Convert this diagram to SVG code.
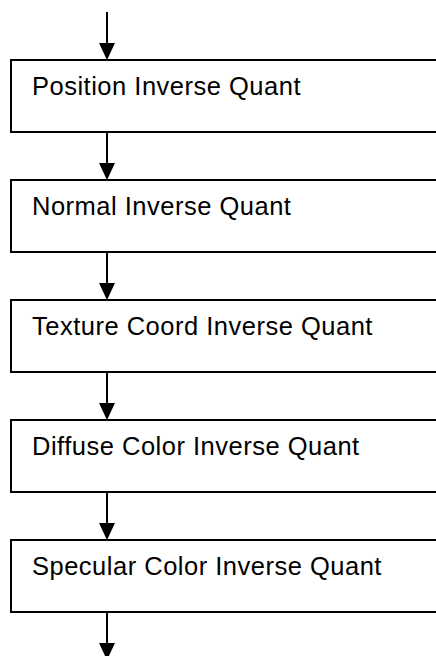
<svg xmlns="http://www.w3.org/2000/svg" width="436" height="656" viewBox="0 0 436 656">
<defs>
<style>
.box{fill:#fff;stroke:#000;stroke-width:2}
.lbl{font-family:"Liberation Sans",Arial,sans-serif;font-size:25.5px;letter-spacing:0.5px;fill:#000}
.conn line{stroke:#000;stroke-width:2}
.conn polygon{fill:#000}
</style>
</defs>
<rect width="436" height="656" fill="#fff"/>
<g id="connectors" class="conn">
<line x1="107" y1="12" x2="107" y2="44"/>
<polygon points="107,60 99,43 115,43"/>
<line x1="107" y1="132" x2="107" y2="164"/>
<polygon points="107,180 99,163 115,163"/>
<line x1="107" y1="252" x2="107" y2="284"/>
<polygon points="107,300 99,283 115,283"/>
<line x1="107" y1="372" x2="107" y2="404"/>
<polygon points="107,420 99,403 115,403"/>
<line x1="107" y1="492" x2="107" y2="524"/>
<polygon points="107,540 99,523 115,523"/>
<line x1="107" y1="612" x2="107" y2="644"/>
<polygon points="107,660 99,643 115,643"/>
</g>
<g id="node1"><rect class="box" x="11" y="60" width="440" height="72"/><text class="lbl" x="32" y="95">Position Inverse Quant</text></g>
<g id="node2"><rect class="box" x="11" y="180" width="440" height="72"/><text class="lbl" x="32" y="215">Normal Inverse Quant</text></g>
<g id="node3"><rect class="box" x="11" y="300" width="440" height="72"/><text class="lbl" x="32" y="335">Texture Coord Inverse Quant</text></g>
<g id="node4"><rect class="box" x="11" y="420" width="440" height="72"/><text class="lbl" x="32" y="455">Diffuse Color Inverse Quant</text></g>
<g id="node5"><rect class="box" x="11" y="540" width="440" height="72"/><text class="lbl" x="32" y="575">Specular Color Inverse Quant</text></g>
</svg>
